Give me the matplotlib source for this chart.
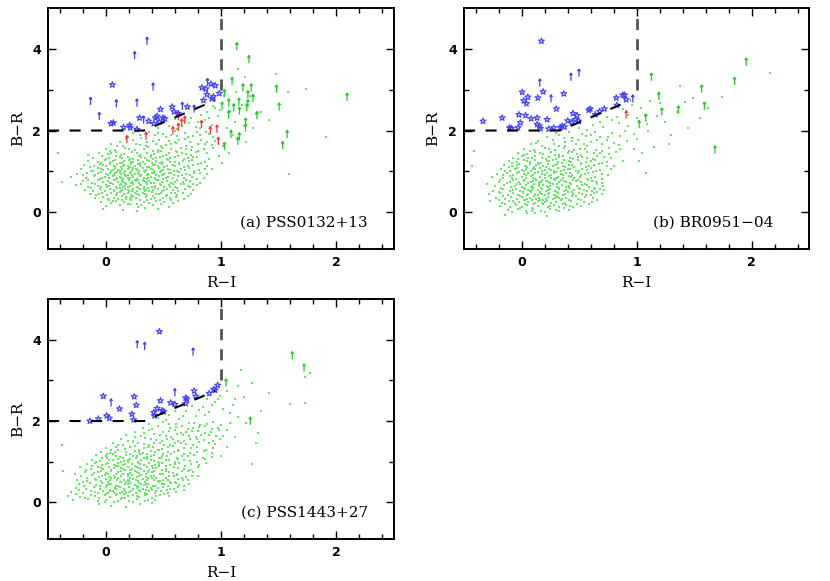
import matplotlib
matplotlib.use("Agg")
import matplotlib.pyplot as plt
from matplotlib.path import Path
from matplotlib.ticker import MultipleLocator, FixedLocator

plt.rcParams['lines.scale_dashes'] = False

# ---------------- data: panel (a) PSS0132+13 ----------------
a_star_x = [0.058, 0.047, 0.067, 0.155, 0.207, 0.213, 0.271, 0.294, 0.373, 0.417, 0.431, 0.446,
            0.475, 0.496, 0.513, 0.466, 0.577, 0.592, 0.630, 0.708, 0.834, 0.869, 0.913, 0.950,
            0.878, 0.848, 0.921, 0.933, 0.985]
a_star_y = [3.12, 2.17, 2.19, 2.08, 2.13, 2.07, 2.03, 2.31, 2.23, 2.17, 2.31, 2.35,
            2.52, 2.31, 2.29, 2.21, 2.58, 2.46, 2.42, 2.58, 3.05, 3.02, 3.14, 3.10,
            2.88, 2.74, 2.78, 2.83, 2.91]
a_blue_arrow_x = [0.359, 0.251, 0.411, -0.131, -0.055, 0.093, 0.271, 0.329, 0.665, 0.767, 0.883]
a_blue_arrow_y = [4.19, 3.84, 3.07, 2.72, 2.35, 2.66, 2.68, 2.26, 2.60, 2.53, 3.18]
a_red_arrow_x = [0.184, 0.35, 0.583, 0.630, 0.659, 0.685, 0.630, 0.831, 0.907, 0.965, 0.977]
a_red_arrow_y = [1.78, 1.86, 2.00, 2.08, 2.19, 2.26, 2.35, 2.15, 2.00, 2.04, 1.74]
a_green_arrow_x = [1.137, 1.242, 1.03, 1.096, 1.19, 1.262, 1.233, 1.277, 1.155, 1.067, 1.11, 1.233,
                   1.224, 1.009, 1.16, 1.312, 1.067, 1.481, 1.504, 2.093, 1.213, 1.213, 1.574,
                   1.087, 1.16, 1.146, 1.534, 1.03]
a_green_arrow_y = [4.06, 3.74, 2.91, 3.21, 3.05, 3.05, 2.88, 2.79, 2.70, 2.68, 2.56, 2.66,
                   2.56, 2.60, 2.48, 2.37, 2.39, 3.02, 2.58, 2.82, 2.21, 2.07, 1.91,
                   1.91, 1.85, 1.74, 1.64, 1.62]
a_dots = [
(0.27,0.03),(0.45,0.08),(-0.02,0.09),(0.15,0.06),
(0.00,0.15),(0.12,0.18),(0.28,0.12),(0.41,0.17),(0.55,0.14),(0.21,0.19),(0.34,0.11),
(-0.04,0.25),(0.05,0.22),(0.09,0.28),(0.16,0.24),(0.22,0.29),(0.27,0.21),(0.33,0.26),(0.38,0.23),(0.44,0.28),(0.51,0.25),(0.58,0.22),(0.63,0.27),(0.19,0.21),
(-0.09,0.34),(-0.02,0.38),(0.03,0.31),(0.07,0.36),(0.11,0.33),(0.14,0.39),(0.18,0.32),(0.23,0.37),(0.26,0.34),(0.30,0.31),(0.35,0.38),(0.39,0.33),(0.43,0.36),(0.47,0.31),(0.52,0.39),(0.56,0.34),(0.61,0.37),(0.68,0.32),(0.21,0.35),
(-0.14,0.45),(-0.08,0.41),(-0.03,0.48),(0.01,0.43),(0.05,0.46),(0.09,0.42),(0.12,0.49),(0.16,0.44),(0.19,0.47),(0.22,0.41),(0.25,0.48),(0.29,0.43),(0.32,0.46),(0.36,0.42),(0.40,0.49),(0.44,0.44),(0.48,0.47),(0.53,0.41),(0.57,0.46),(0.62,0.43),(0.67,0.48),(0.74,0.45),(0.27,0.44),
(-0.18,0.55),(-0.11,0.52),(-0.05,0.58),(-0.01,0.53),(0.04,0.56),(0.07,0.51),(0.10,0.59),(0.14,0.54),(0.17,0.57),(0.20,0.52),(0.24,0.58),(0.27,0.53),(0.30,0.56),(0.34,0.51),(0.37,0.59),(0.41,0.54),(0.45,0.57),(0.49,0.52),(0.53,0.58),(0.58,0.55),(0.63,0.51),(0.69,0.57),(0.76,0.54),(0.13,0.51),(0.33,0.58),
(-0.26,0.66),(-0.15,0.63),(-0.09,0.68),(-0.04,0.61),(0.00,0.67),(0.03,0.64),(0.06,0.69),(0.09,0.62),(0.12,0.66),(0.15,0.61),(0.18,0.68),(0.21,0.64),(0.24,0.69),(0.27,0.62),(0.30,0.66),(0.33,0.63),(0.36,0.68),(0.40,0.61),(0.43,0.65),(0.47,0.69),(0.51,0.63),(0.55,0.67),(0.60,0.62),(0.65,0.68),(0.71,0.64),(0.79,0.66),(0.19,0.63),
(-0.38,0.74),(-0.20,0.77),(-0.12,0.72),(-0.07,0.78),(-0.02,0.73),(0.02,0.76),(0.05,0.71),(0.08,0.79),(0.11,0.74),(0.14,0.77),(0.17,0.72),(0.20,0.78),(0.23,0.73),(0.26,0.76),(0.29,0.71),(0.32,0.79),(0.35,0.74),(0.38,0.77),(0.42,0.72),(0.45,0.78),(0.49,0.73),(0.53,0.76),(0.57,0.71),(0.62,0.78),(0.67,0.74),(0.73,0.77),(0.82,0.72),(0.25,0.79),
(-0.30,0.86),(-0.17,0.83),(-0.10,0.88),(-0.05,0.81),(-0.01,0.87),(0.03,0.84),(0.06,0.89),(0.09,0.82),(0.12,0.86),(0.15,0.81),(0.18,0.88),(0.21,0.84),(0.24,0.87),(0.27,0.82),(0.30,0.89),(0.33,0.85),(0.36,0.81),(0.39,0.87),(0.43,0.83),(0.46,0.88),(0.50,0.82),(0.54,0.86),(0.58,0.84),(0.63,0.89),(0.68,0.83),(0.75,0.87),(0.85,0.85),(0.13,0.84),
(-0.25,0.94),(-0.16,0.97),(-0.09,0.92),(-0.04,0.98),(0.00,0.93),(0.04,0.96),(0.07,0.91),(0.10,0.99),(0.13,0.94),(0.16,0.97),(0.19,0.92),(0.22,0.98),(0.25,0.93),(0.28,0.96),(0.31,0.91),(0.34,0.99),(0.37,0.94),(0.40,0.97),(0.44,0.92),(0.47,0.98),(0.51,0.93),(0.55,0.96),(0.59,0.91),(0.64,0.98),(0.70,0.94),(0.77,0.97),(0.88,0.93),(0.21,0.95),
(-0.21,1.05),(-0.13,1.02),(-0.07,1.08),(-0.02,1.03),(0.02,1.06),(0.05,1.01),(0.08,1.09),(0.11,1.04),(0.14,1.07),(0.17,1.02),(0.20,1.08),(0.23,1.03),(0.26,1.06),(0.29,1.01),(0.32,1.09),(0.35,1.04),(0.39,1.07),(0.42,1.02),(0.46,1.08),(0.50,1.04),(0.54,1.07),(0.59,1.02),(0.65,1.06),(0.72,1.09),(0.81,1.03),(0.92,1.07),
(-0.19,1.16),(-0.10,1.13),(-0.05,1.18),(0.00,1.12),(0.04,1.17),(0.07,1.14),(0.10,1.19),(0.13,1.11),(0.16,1.16),(0.19,1.13),(0.22,1.18),(0.25,1.12),(0.28,1.17),(0.31,1.14),(0.34,1.19),(0.38,1.11),(0.41,1.16),(0.45,1.13),(0.49,1.18),(0.53,1.12),(0.58,1.16),(0.64,1.19),(0.71,1.13),(0.80,1.17),
(-0.15,1.25),(-0.07,1.22),(-0.01,1.28),(0.04,1.23),(0.08,1.27),(0.12,1.21),(0.16,1.26),(0.20,1.29),(0.24,1.22),(0.28,1.27),(0.32,1.24),(0.36,1.29),(0.40,1.21),(0.44,1.26),(0.49,1.23),(0.54,1.28),(0.60,1.22),(0.67,1.26),(0.75,1.29),(0.86,1.24),
(-0.11,1.34),(-0.03,1.37),(0.03,1.32),(0.09,1.38),(0.14,1.33),(0.19,1.36),(0.24,1.31),(0.29,1.38),(0.34,1.33),(0.39,1.36),(0.44,1.32),(0.50,1.38),(0.56,1.34),(0.63,1.37),(0.71,1.32),(0.79,1.36),
(-0.41,1.44),(-0.06,1.46),(0.02,1.42),(0.09,1.48),(0.16,1.43),(0.23,1.47),(0.30,1.41),(0.36,1.46),(0.42,1.43),(0.48,1.49),(0.55,1.44),(0.62,1.47),(0.70,1.42),(0.78,1.48),
(0.00,1.55),(0.08,1.52),(0.17,1.58),(0.25,1.53),(0.33,1.56),(0.41,1.51),(0.49,1.57),(0.57,1.54),(0.65,1.58),(0.74,1.52),(0.85,1.56),
(0.05,1.66),(0.15,1.63),(0.26,1.68),(0.35,1.62),(0.44,1.67),(0.52,1.64),(0.61,1.69),(0.70,1.63),(0.80,1.67),(0.92,1.65),
(0.12,1.73),(0.24,1.77),(0.36,1.72),(0.46,1.78),(0.55,1.74),(0.64,1.77),(0.73,1.72),(0.83,1.78),(0.95,1.75),
(0.19,1.85),(0.31,1.82),(0.43,1.88),(0.52,1.83),(0.62,1.87),(0.71,1.84),(0.82,1.88),(0.93,1.83),
(0.24,1.94),(0.38,1.97),(0.50,1.92),(0.60,1.98),(0.69,1.93),(0.79,1.96),(0.90,1.91),
(0.45,2.05),(0.55,2.12),(0.62,2.03),(0.72,2.18),(0.78,2.09),(0.86,2.25),(0.92,2.14),(0.97,2.35),(0.68,2.24),(0.88,2.45),(0.95,2.55),(0.74,2.31),(0.83,2.38),(0.60,2.28),
(1.02,1.62),(1.05,2.05),(1.08,2.48),(1.12,2.20),(1.15,3.50),(1.21,3.30),(1.18,2.62),(1.25,2.85),(1.30,2.40),(1.35,2.46),(1.10,1.90),(1.07,1.45),(1.22,1.72),(1.28,2.05),(1.48,3.38),(1.58,2.95),(1.74,3.02),(1.91,1.85),(1.59,0.94),(1.42,2.25),(1.03,2.85),(1.13,2.95),(1.20,2.10),(1.01,1.20),(0.98,1.38),
]
a_dots2 = [
(0.06,0.27),(0.31,0.18),(0.48,0.20),(0.14,0.30),(0.36,0.29),(0.02,0.33),(0.24,0.40),(0.50,0.35),(0.57,0.29),(0.41,0.40),
(-0.06,0.44),(0.10,0.47),(0.18,0.38),(0.34,0.45),(0.46,0.44),(0.60,0.48),(0.71,0.40),(0.23,0.51),(0.38,0.53),(0.07,0.55),
(-0.13,0.60),(0.01,0.62),(0.12,0.59),(0.19,0.55),(0.28,0.60),(0.35,0.55),(0.43,0.60),(0.51,0.55),(0.62,0.59),(0.73,0.61),(0.56,0.63),
(-0.21,0.70),(-0.07,0.65),(0.04,0.72),(0.13,0.69),(0.22,0.71),(0.31,0.67),(0.39,0.71),(0.48,0.66),(0.58,0.70),(0.68,0.69),(0.76,0.70),(0.17,0.65),
(-0.15,0.79),(-0.03,0.84),(0.07,0.80),(0.15,0.75),(0.19,0.83),(0.28,0.80),(0.37,0.84),(0.44,0.80),(0.52,0.84),(0.60,0.75),(0.70,0.80),(0.79,0.82),(0.33,0.76),(0.10,0.85),
(-0.20,0.91),(-0.07,0.95),(0.02,0.90),(0.08,0.95),(0.17,0.90),(0.23,0.91),(0.29,0.93),(0.36,0.90),(0.42,0.95),(0.49,0.90),(0.57,0.95),(0.66,0.90),(0.73,0.92),(0.82,0.95),(0.12,0.97),
(-0.11,1.00),(-0.04,1.05),(0.06,1.04),(0.12,1.00),(0.19,1.05),(0.27,1.03),(0.33,1.00),(0.40,1.05),(0.48,1.01),(0.56,1.04),(0.62,1.00),(0.69,1.04),(0.77,1.01),(0.86,1.05),(0.24,1.09),
(-0.14,1.10),(-0.02,1.15),(0.08,1.11),(0.15,1.14),(0.21,1.11),(0.30,1.15),(0.36,1.10),(0.43,1.15),(0.51,1.10),(0.60,1.14),(0.68,1.10),(0.76,1.15),(0.88,1.12),
(-0.04,1.20),(0.06,1.25),(0.14,1.20),(0.22,1.24),(0.30,1.20),(0.38,1.25),(0.47,1.20),(0.56,1.24),(0.64,1.21),(0.72,1.25),(0.83,1.20),
(0.00,1.30),(0.12,1.35),(0.21,1.30),(0.31,1.35),(0.41,1.30),(0.47,1.35),(0.53,1.30),(0.60,1.36),(0.68,1.31),(0.76,1.35),(0.90,1.31),
(-0.15,1.40),(0.05,1.46),(0.13,1.41),(0.27,1.44),(0.39,1.40),(0.45,1.47),(0.52,1.40),(0.66,1.45),(0.74,1.40),(0.88,1.44),
(0.04,1.51),(0.20,1.55),(0.37,1.59),(0.45,1.53),(0.61,1.50),(0.70,1.55),(0.80,1.51),(0.93,1.58),
(0.10,1.61),(0.30,1.65),(0.48,1.61),(0.57,1.66),(0.75,1.60),(0.86,1.66),
(0.18,1.79),(0.41,1.75),(0.60,1.71),(0.69,1.79),(0.88,1.72),(0.30,1.89),(0.57,1.90),(0.76,1.86),(0.87,1.97),(0.45,1.95),
(0.66,2.10),(0.82,2.05),(0.90,2.30),(0.80,2.20),(0.93,2.60),(0.99,2.50),
]

# ---------------- data: panel (b) BR0951-04 ----------------
b_star_x = [0.173, -0.335, -0.168, -0.104, -0.087, -0.03, -0.023, -0.01, 0.006, 0.02, 0.043, 0.055,
            0.035, 0.084, 0.136, 0.142, 0.136, 0.156, 0.188, 0.165, 0.223, 0.237, 0.28, 0.303,
            0.338, 0.353, 0.373, 0.367, 0.402, 0.44, 0.448, 0.468, 0.483, 0.497, 0.584, 0.598,
            0.642, 0.68, 0.72, 0.824, 0.83, 0.88, 0.896, 0.91]
b_star_y = [4.19, 2.23, 2.31, 2.07, 2.05, 2.07, 2.39, 2.19, 2.94, 2.73, 2.66, 2.82,
            2.37, 2.29, 2.31, 2.80, 2.15, 2.11, 2.95, 2.05, 2.27, 2.04, 2.07, 2.53,
            2.07, 2.11, 2.09, 2.90, 2.24, 2.20, 2.42, 2.27, 2.37, 2.23, 2.50, 2.53,
            2.39, 2.47, 2.53, 2.80, 2.62, 2.87, 2.87, 2.76]
b_blue_arrow_x = [0.159, 0.43, 0.50, 0.257, 0.968]
b_blue_arrow_y = [3.17, 3.31, 3.41, 2.78, 2.78]
b_red_arrow_x = [0.91]
b_red_arrow_y = [2.39]
b_green_arrow_x = [1.954, 1.853, 1.13, 1.566, 1.194, 1.59, 1.22, 1.364, 1.08, 1.023, 1.682]
b_green_arrow_y = [3.68, 3.21, 3.31, 3.02, 2.84, 2.60, 2.46, 2.51, 2.31, 2.15, 1.53]
b_dots = [
(-0.14,-0.06),(0.05,-0.03),(0.22,-0.08),(0.12,-0.01),
(-0.12,0.05),(-0.03,0.08),(0.04,0.02),(0.10,0.07),(0.17,0.04),(0.25,0.09),(0.33,0.03),(0.41,0.06),
(-0.19,0.15),(-0.10,0.12),(-0.05,0.18),(0.00,0.13),(0.05,0.17),(0.09,0.11),(0.14,0.16),(0.19,0.19),(0.23,0.12),(0.28,0.17),(0.33,0.14),(0.39,0.18),(0.45,0.12),(0.52,0.16),
(-0.27,0.27),(-0.17,0.23),(-0.11,0.28),(-0.06,0.22),(-0.02,0.26),(0.02,0.29),(0.06,0.24),(0.10,0.21),(0.14,0.27),(0.18,0.23),(0.22,0.28),(0.26,0.22),(0.30,0.26),(0.34,0.29),(0.38,0.23),(0.43,0.27),(0.48,0.21),(0.54,0.26),(0.61,0.24),
(-0.22,0.35),(-0.14,0.32),(-0.09,0.38),(-0.04,0.33),(0.00,0.37),(0.03,0.31),(0.07,0.36),(0.11,0.39),(0.15,0.34),(0.19,0.31),(0.23,0.37),(0.27,0.33),(0.31,0.38),(0.35,0.32),(0.39,0.36),(0.44,0.39),(0.49,0.33),(0.55,0.37),(0.62,0.34),(0.13,0.32),(0.29,0.35),
(-0.28,0.44),(-0.19,0.47),(-0.12,0.42),(-0.07,0.48),(-0.03,0.43),(0.01,0.46),(0.05,0.41),(0.08,0.49),(0.12,0.44),(0.16,0.47),(0.20,0.42),(0.24,0.48),(0.28,0.43),(0.32,0.46),(0.36,0.41),(0.40,0.49),(0.45,0.44),(0.50,0.47),(0.56,0.42),(0.63,0.46),(0.70,0.44),(0.18,0.45),
(-0.25,0.53),(-0.16,0.56),(-0.10,0.51),(-0.05,0.58),(-0.01,0.53),(0.03,0.56),(0.07,0.52),(0.10,0.59),(0.14,0.54),(0.18,0.57),(0.21,0.51),(0.25,0.58),(0.29,0.53),(0.33,0.56),(0.37,0.52),(0.41,0.59),(0.46,0.54),(0.51,0.57),(0.57,0.52),(0.64,0.58),(0.72,0.55),(0.06,0.55),
(-0.23,0.64),(-0.15,0.67),(-0.09,0.62),(-0.04,0.68),(0.00,0.63),(0.04,0.66),(0.08,0.61),(0.11,0.69),(0.15,0.64),(0.19,0.67),(0.23,0.62),(0.27,0.68),(0.31,0.63),(0.35,0.66),(0.39,0.61),(0.43,0.69),(0.48,0.64),(0.53,0.67),(0.59,0.62),(0.66,0.68),(0.22,0.65),
(-0.20,0.75),(-0.13,0.72),(-0.07,0.78),(-0.02,0.73),(0.02,0.77),(0.06,0.71),(0.10,0.76),(0.13,0.79),(0.17,0.73),(0.21,0.77),(0.25,0.72),(0.29,0.78),(0.33,0.74),(0.37,0.77),(0.42,0.71),(0.47,0.76),(0.52,0.73),(0.58,0.78),(0.65,0.74),(0.15,0.75),
(-0.26,0.86),(-0.16,0.83),(-0.10,0.88),(-0.05,0.82),(0.00,0.87),(0.04,0.84),(0.08,0.89),(0.12,0.81),(0.16,0.86),(0.20,0.83),(0.24,0.88),(0.28,0.82),(0.32,0.87),(0.36,0.84),(0.41,0.89),(0.46,0.83),(0.51,0.86),(0.57,0.81),(0.64,0.87),(0.30,0.85),
(-0.21,0.94),(-0.13,0.97),(-0.07,0.92),(-0.02,0.98),(0.02,0.93),(0.06,0.96),(0.10,0.91),(0.14,0.99),(0.18,0.94),(0.22,0.97),(0.26,0.92),(0.30,0.98),(0.34,0.93),(0.39,0.96),(0.44,0.91),(0.49,0.97),(0.55,0.94),(0.62,0.98),(0.70,0.93),
(-0.18,1.05),(-0.10,1.02),(-0.04,1.08),(0.00,1.03),(0.04,1.07),(0.08,1.01),(0.12,1.06),(0.16,1.09),(0.20,1.03),(0.24,1.07),(0.28,1.02),(0.32,1.08),(0.37,1.04),(0.42,1.07),(0.47,1.01),(0.53,1.06),(0.60,1.09),(0.68,1.04),(0.78,1.06),
(-0.43,1.14),(-0.15,1.16),(-0.08,1.12),(-0.02,1.18),(0.03,1.13),(0.07,1.17),(0.11,1.11),(0.15,1.19),(0.19,1.14),(0.23,1.17),(0.27,1.12),(0.31,1.18),(0.36,1.13),(0.41,1.16),(0.46,1.11),(0.52,1.17),(0.59,1.14),(0.67,1.19),(0.80,1.13),
(-0.11,1.25),(-0.04,1.22),(0.02,1.28),(0.07,1.23),(0.12,1.27),(0.17,1.21),(0.22,1.26),(0.27,1.29),(0.32,1.23),(0.37,1.27),(0.43,1.22),(0.49,1.28),(0.56,1.24),(0.64,1.27),(0.74,1.22),(0.88,1.26),
(-0.07,1.34),(0.00,1.37),(0.06,1.32),(0.12,1.38),(0.18,1.33),(0.24,1.36),(0.30,1.31),(0.36,1.38),(0.42,1.33),(0.49,1.36),(0.57,1.32),(0.66,1.37),(0.78,1.34),
(-0.41,1.49),(-0.03,1.45),(0.05,1.42),(0.12,1.48),(0.19,1.43),(0.26,1.47),(0.33,1.41),(0.40,1.46),(0.48,1.43),(0.57,1.48),(0.68,1.44),(0.82,1.47),
(0.02,1.55),(0.11,1.52),(0.20,1.58),(0.29,1.53),(0.37,1.57),(0.46,1.52),(0.55,1.56),(0.65,1.53),(0.76,1.58),
(0.08,1.66),(0.18,1.62),(0.28,1.68),(0.38,1.63),(0.47,1.67),(0.57,1.62),(0.70,1.66),(0.85,1.64),
(0.14,1.74),(0.27,1.77),(0.38,1.72),(0.49,1.78),(0.60,1.73),(0.74,1.76),(0.92,1.75),
(0.22,1.84),(0.33,1.88),(0.44,1.82),(0.56,1.87),(0.68,1.83),(0.86,1.86),
(0.30,1.93),(0.41,1.97),(0.53,1.92),(0.64,1.96),(0.79,1.94),(0.98,1.91),
(0.50,2.07),(0.62,2.14),(0.71,2.09),(0.79,2.27),(0.85,2.18),(0.93,2.38),(0.88,2.52),(0.74,2.33),(0.96,2.62),(1.04,2.55),(1.12,2.72),(1.20,2.68),
(1.00,1.80),(1.05,1.45),(1.10,2.00),(1.15,1.60),(1.25,2.20),(1.28,1.68),(1.35,2.45),(1.42,2.70),(1.49,2.80),(1.55,2.30),(1.74,2.82),(2.16,3.41),(1.30,1.88),(1.18,2.35),(1.45,2.05),(1.02,1.25),(1.08,0.95),(0.98,1.55),(1.62,2.55),(1.38,3.10),
]
b_dots2 = [
(-0.08,0.00),(0.09,0.03),(0.20,0.01),(0.30,0.06),(0.37,0.10),(-0.01,0.10),
(-0.14,0.20),(0.03,0.19),(0.12,0.22),(0.25,0.15),(0.36,0.20),(0.42,0.16),(0.59,0.20),(0.20,0.25),
(-0.20,0.30),(-0.07,0.28),(0.05,0.33),(0.16,0.29),(0.21,0.33),(0.33,0.35),(0.41,0.30),(0.52,0.31),(0.66,0.29),(0.09,0.30),
(-0.16,0.40),(-0.01,0.39),(0.06,0.44),(0.14,0.41),(0.23,0.45),(0.30,0.40),(0.38,0.45),(0.47,0.40),(0.53,0.45),(0.60,0.41),(0.66,0.49),
(-0.20,0.50),(-0.07,0.55),(0.01,0.50),(0.09,0.54),(0.16,0.50),(0.23,0.55),(0.31,0.50),(0.39,0.55),(0.44,0.50),(0.54,0.55),(0.61,0.51),(0.68,0.56),
(-0.18,0.60),(-0.06,0.65),(0.02,0.60),(0.09,0.65),(0.17,0.60),(0.25,0.65),(0.33,0.60),(0.41,0.64),(0.50,0.60),(0.57,0.66),(0.63,0.60),(0.71,0.65),
(-0.30,0.70),(-0.10,0.74),(-0.01,0.70),(0.08,0.74),(0.15,0.70),(0.23,0.74),(0.31,0.70),(0.39,0.74),(0.45,0.78),(0.55,0.70),(0.61,0.76),(0.70,0.72),
(-0.19,0.80),(-0.08,0.84),(0.02,0.80),(0.10,0.85),(0.18,0.80),(0.26,0.85),(0.34,0.80),(0.43,0.86),(0.49,0.80),(0.60,0.84),(0.70,0.82),
(-0.16,0.90),(-0.04,0.95),(0.04,0.90),(0.12,0.95),(0.20,0.90),(0.28,0.95),(0.36,0.90),(0.42,0.95),(0.52,0.90),(0.58,0.96),(0.75,0.92),
(-0.14,1.00),(-0.06,1.05),(0.02,1.00),(0.10,1.05),(0.18,1.00),(0.26,1.04),(0.34,1.00),(0.40,1.05),(0.50,1.00),(0.57,1.04),(0.65,1.01),
(-0.11,1.10),(-0.04,1.15),(0.05,1.10),(0.13,1.15),(0.21,1.10),(0.29,1.15),(0.38,1.10),(0.44,1.15),(0.56,1.11),(0.63,1.16),(0.74,1.12),
(-0.08,1.20),(0.05,1.25),(0.14,1.20),(0.24,1.25),(0.35,1.20),(0.41,1.25),(0.52,1.20),(0.60,1.25),(0.70,1.21),
(-0.03,1.30),(0.09,1.34),(0.21,1.30),(0.33,1.35),(0.45,1.30),(0.53,1.36),(0.62,1.30),(0.72,1.35),
(0.02,1.40),(0.16,1.45),(0.29,1.40),(0.44,1.47),(0.52,1.40),(0.63,1.46),(0.76,1.42),
(0.07,1.50),(0.24,1.55),(0.41,1.50),(0.51,1.54),(0.70,1.51),(0.86,1.55),
(0.13,1.70),(0.33,1.63),(0.44,1.74),(0.54,1.68),(0.66,1.78),(0.80,1.70),(0.37,1.82),(0.60,1.90),(0.75,1.85),(0.90,1.98),
(0.57,2.02),(0.68,2.20),(0.83,2.32),(0.93,2.10),(1.00,2.30),(1.09,2.15),
]

# ---------------- data: panel (c) PSS1443+27 ----------------
c_star_x = [0.466, -0.137, -0.064, -0.02, 0.009, 0.032, 0.12, 0.227, 0.242, 0.248, 0.265, 0.417,
            0.423, 0.446, 0.475, 0.49, 0.504, 0.563, 0.60, 0.694, 0.703, 0.767, 0.781, 0.898,
            0.936, 0.948, 0.971, 0.694]
c_star_y = [4.20, 2.00, 2.05, 2.61, 2.13, 2.07, 2.30, 2.17, 2.03, 2.60, 2.39, 2.21,
            2.13, 2.31, 2.50, 2.26, 2.23, 2.45, 2.41, 2.57, 2.54, 2.74, 2.61, 2.68,
            2.78, 2.76, 2.88, 2.43]
c_blue_arrow_x = [0.274, 0.338, 0.758, 0.047, 0.60]
c_blue_arrow_y = [3.88, 3.84, 3.70, 2.45, 2.70]
c_green_arrow_x = [1.618, 1.72, 1.044, 1.254]
c_green_arrow_y = [3.61, 3.31, 2.94, 2.00]
c_dots = [
(0.05,-0.08),(0.18,-0.12),(0.30,-0.05),(-0.06,-0.03),(0.40,-0.02),
(-0.28,0.05),(-0.15,0.08),(-0.07,0.03),(0.00,0.07),(0.07,0.02),(0.13,0.09),(0.20,0.04),(0.27,0.08),(0.34,0.03),(0.43,0.06),
(-0.33,0.16),(-0.22,0.13),(-0.13,0.18),(-0.06,0.12),(-0.01,0.17),(0.04,0.14),(0.09,0.19),(0.14,0.11),(0.19,0.16),(0.24,0.19),(0.29,0.13),(0.34,0.17),(0.40,0.12),(0.47,0.18),(0.55,0.15),
(-0.30,0.26),(-0.20,0.23),(-0.13,0.28),(-0.07,0.22),(-0.02,0.27),(0.02,0.24),(0.06,0.29),(0.10,0.21),(0.14,0.26),(0.18,0.23),(0.22,0.28),(0.26,0.22),(0.30,0.27),(0.34,0.24),(0.38,0.29),(0.43,0.23),(0.48,0.27),(0.54,0.22),(0.61,0.26),(0.12,0.24),
(-0.26,0.35),(-0.17,0.32),(-0.10,0.38),(-0.05,0.33),(0.00,0.37),(0.04,0.31),(0.08,0.36),(0.12,0.39),(0.16,0.33),(0.20,0.37),(0.24,0.32),(0.28,0.38),(0.32,0.34),(0.36,0.37),(0.40,0.31),(0.45,0.36),(0.50,0.39),(0.56,0.33),(0.63,0.37),(0.27,0.35),(0.35,0.31),
(-0.23,0.44),(-0.14,0.47),(-0.08,0.42),(-0.03,0.48),(0.01,0.43),(0.05,0.46),(0.09,0.41),(0.13,0.49),(0.17,0.44),(0.21,0.47),(0.25,0.42),(0.29,0.48),(0.33,0.43),(0.37,0.46),(0.41,0.41),(0.46,0.49),(0.51,0.44),(0.57,0.47),(0.64,0.42),(0.72,0.46),(0.31,0.45),
(-0.25,0.56),(-0.16,0.53),(-0.09,0.58),(-0.04,0.52),(0.00,0.57),(0.04,0.54),(0.08,0.59),(0.12,0.51),(0.16,0.56),(0.20,0.53),(0.24,0.58),(0.28,0.52),(0.32,0.57),(0.36,0.54),(0.40,0.59),(0.45,0.53),(0.50,0.56),(0.56,0.51),(0.63,0.57),(0.71,0.54),(0.19,0.55),
(-0.21,0.64),(-0.12,0.67),(-0.06,0.62),(-0.01,0.68),(0.03,0.63),(0.07,0.66),(0.11,0.61),(0.15,0.69),(0.19,0.64),(0.23,0.67),(0.27,0.62),(0.31,0.68),(0.35,0.63),(0.39,0.66),(0.44,0.61),(0.49,0.69),(0.55,0.64),(0.62,0.67),(0.70,0.63),(0.80,0.66),
(-0.37,0.78),(-0.18,0.75),(-0.10,0.72),(-0.04,0.78),(0.00,0.73),(0.05,0.77),(0.09,0.71),(0.13,0.76),(0.17,0.79),(0.21,0.73),(0.25,0.77),(0.29,0.72),(0.33,0.78),(0.37,0.74),(0.42,0.77),(0.47,0.71),(0.52,0.76),(0.58,0.73),(0.66,0.78),(0.76,0.74),
(-0.22,0.86),(-0.13,0.83),(-0.07,0.88),(-0.02,0.82),(0.03,0.87),(0.07,0.84),(0.11,0.89),(0.15,0.81),(0.19,0.86),(0.23,0.83),(0.27,0.88),(0.31,0.82),(0.36,0.87),(0.41,0.84),(0.46,0.89),(0.52,0.83),(0.59,0.86),(0.68,0.82),(0.80,0.87),
(-0.16,0.94),(-0.09,0.97),(-0.03,0.92),(0.02,0.98),(0.07,0.93),(0.11,0.96),(0.15,0.91),(0.19,0.99),(0.23,0.94),(0.28,0.97),(0.33,0.92),(0.38,0.98),(0.43,0.93),(0.49,0.96),(0.56,0.91),(0.64,0.97),(0.74,0.94),(0.87,0.96),
(-0.12,1.05),(-0.05,1.02),(0.01,1.08),(0.06,1.03),(0.11,1.07),(0.16,1.01),(0.21,1.06),(0.26,1.09),(0.31,1.03),(0.36,1.07),(0.42,1.02),(0.48,1.08),(0.55,1.04),(0.63,1.07),(0.73,1.02),(0.86,1.06),
(-0.08,1.16),(0.00,1.13),(0.06,1.18),(0.12,1.12),(0.18,1.17),(0.24,1.14),(0.30,1.19),(0.36,1.12),(0.42,1.16),(0.49,1.13),(0.57,1.18),(0.66,1.14),(0.77,1.17),(0.92,1.12),
(-0.04,1.25),(0.04,1.22),(0.11,1.28),(0.18,1.23),(0.25,1.27),(0.32,1.21),(0.39,1.26),(0.46,1.29),(0.54,1.23),(0.63,1.27),(0.73,1.22),(0.85,1.26),
(0.00,1.34),(0.09,1.37),(0.17,1.32),(0.25,1.38),(0.33,1.33),(0.41,1.36),(0.49,1.31),(0.58,1.38),(0.68,1.33),(0.79,1.36),(0.93,1.34),
(-0.38,1.42),(0.06,1.45),(0.15,1.42),(0.24,1.48),(0.33,1.43),(0.42,1.47),(0.51,1.41),(0.60,1.46),(0.70,1.43),(0.81,1.48),(0.95,1.44),
(0.13,1.55),(0.24,1.52),(0.34,1.58),(0.44,1.53),(0.53,1.57),(0.63,1.52),(0.73,1.56),(0.85,1.53),(0.99,1.57),
(0.18,1.66),(0.31,1.62),(0.42,1.68),(0.52,1.63),(0.62,1.67),(0.72,1.62),(0.83,1.66),(0.96,1.64),
(0.25,1.74),(0.38,1.77),(0.50,1.72),(0.60,1.78),(0.70,1.73),(0.80,1.76),(0.91,1.72),(1.05,1.77),
(0.32,1.84),(0.45,1.88),(0.56,1.82),(0.66,1.87),(0.76,1.83),(0.86,1.88),(0.97,1.84),
(0.38,1.93),(0.50,1.97),(0.61,1.92),(0.72,1.96),(0.82,1.91),(0.93,1.97),(1.08,1.94),
(0.45,2.08),(0.55,2.16),(0.64,2.05),(0.70,2.25),(0.78,2.12),(0.84,2.35),(0.90,2.21),(0.95,2.48),(0.99,2.62),(0.75,2.38),(0.60,2.24),(0.88,2.55),(1.02,2.30),(0.52,2.03),
(1.05,2.75),(1.10,2.40),(1.15,2.10),(1.17,3.25),(1.20,2.60),(1.27,2.94),(1.32,1.70),(1.27,0.94),(1.42,2.70),(1.60,2.41),(1.73,2.45),(1.77,3.17),(1.73,3.09),(1.12,1.60),(1.05,1.35),(1.22,1.95),(1.30,1.45),(1.00,1.15),(1.15,2.85),(1.35,2.25),
]
c_dots2 = [
(-0.01,0.00),(0.11,0.03),(0.24,0.01),(0.37,0.07),(-0.18,0.10),(0.17,0.10),
(-0.26,0.20),(-0.09,0.15),(0.07,0.22),(0.16,0.20),(0.27,0.16),(0.36,0.20),(0.44,0.15),(0.51,0.20),(0.00,0.21),
(-0.23,0.30),(-0.09,0.26),(0.04,0.28),(0.09,0.33),(0.17,0.29),(0.20,0.25),(0.29,0.30),(0.39,0.35),(0.44,0.28),(0.53,0.30),(0.59,0.34),(0.68,0.30),
(-0.19,0.40),(-0.05,0.40),(0.03,0.45),(0.11,0.41),(0.19,0.45),(0.27,0.40),(0.35,0.45),(0.43,0.40),(0.49,0.45),(0.54,0.40),(0.61,0.47),(0.68,0.40),
(-0.20,0.50),(-0.08,0.54),(0.02,0.50),(0.10,0.55),(0.18,0.50),(0.26,0.55),(0.34,0.50),(0.42,0.55),(0.47,0.52),(0.54,0.56),(0.60,0.50),(0.67,0.55),
(-0.16,0.60),(-0.03,0.65),(0.05,0.60),(0.13,0.65),(0.21,0.60),(0.29,0.65),(0.37,0.60),(0.42,0.65),(0.52,0.60),(0.59,0.65),(0.66,0.60),(0.75,0.65),
(-0.27,0.70),(-0.07,0.75),(0.02,0.70),(0.11,0.74),(0.19,0.70),(0.27,0.74),(0.35,0.70),(0.40,0.74),(0.50,0.70),(0.55,0.75),(0.62,0.71),(0.71,0.76),
(-0.17,0.80),(-0.04,0.84),(0.05,0.80),(0.13,0.84),(0.21,0.80),(0.29,0.85),(0.38,0.80),(0.44,0.85),(0.49,0.80),(0.63,0.84),(0.73,0.80),
(-0.12,0.90),(0.00,0.95),(0.09,0.90),(0.17,0.95),(0.25,0.90),(0.30,0.95),(0.40,0.90),(0.46,0.95),(0.52,0.90),(0.60,0.95),(0.69,0.90),(0.81,0.93),
(-0.08,1.00),(0.03,1.05),(0.13,1.00),(0.19,1.04),(0.28,1.00),(0.39,1.05),(0.45,1.00),(0.52,1.05),(0.60,1.00),(0.68,1.05),(0.79,1.00),
(-0.03,1.10),(0.09,1.15),(0.15,1.10),(0.27,1.15),(0.33,1.10),(0.39,1.15),(0.46,1.10),(0.53,1.15),(0.62,1.10),(0.71,1.15),(0.84,1.10),
(0.01,1.20),(0.08,1.25),(0.21,1.20),(0.29,1.25),(0.36,1.20),(0.43,1.25),(0.50,1.20),(0.59,1.25),(0.68,1.20),(0.79,1.25),(0.92,1.21),
(0.05,1.30),(0.21,1.35),(0.29,1.30),(0.37,1.35),(0.45,1.30),(0.54,1.35),(0.63,1.30),(0.74,1.34),(0.87,1.30),
(0.11,1.40),(0.28,1.45),(0.38,1.40),(0.47,1.45),(0.56,1.40),(0.65,1.45),(0.76,1.40),(0.90,1.46),
(0.19,1.50),(0.39,1.55),(0.49,1.50),(0.58,1.55),(0.68,1.50),(0.79,1.55),(0.93,1.51),
(0.25,1.60),(0.47,1.65),(0.57,1.60),(0.67,1.65),(0.78,1.60),(0.90,1.65),(1.02,1.62),
(0.33,1.70),(0.55,1.75),(0.65,1.70),(0.75,1.75),(0.86,1.70),(0.98,1.78),
(0.40,1.80),(0.61,1.85),(0.71,1.80),(0.81,1.85),(0.92,1.80),(0.55,1.92),(0.77,1.95),(0.88,1.93),(1.00,1.90),
(0.67,2.12),(0.81,2.28),(0.92,2.40),(0.86,2.15),(0.97,2.55),(1.08,2.20),(1.12,2.55),
]

panel_labels = ["(a) PSS0132+13", "(b) BR0951\u221204", "(c) PSS1443+27"]
x_label = "R\u2212I"
y_label = "B\u2212R"
# colour-selection criterion
sel_x = [-0.5, 1 / 3, 0.95]
sel_y = [2.0, 2.0, 2.74]
vert_x = [1.0, 1.0]
vert_y = [3.0, 5.0]

# ---------------- drawing ----------------
arrow_path = Path([(0, -1), (0, 1), (-0.38, 0.45), (0, 1), (0.38, 0.45)],
                  [Path.MOVETO, Path.LINETO, Path.MOVETO, Path.LINETO, Path.LINETO])

BLUE = '#4040ff'
RED = '#ff3030'
GREEN_ARR = '#22cc22'
GREEN_DOT = '#62ea62'

fig = plt.figure(figsize=(8.3, 5.81), dpi=100)
W, H = 830.0, 581.0
axA = fig.add_axes([48 / W, 1 - 249 / H, 346 / W, 241 / H])
axB = fig.add_axes([464 / W, 1 - 249 / H, 345 / W, 241 / H])
axC = fig.add_axes([48 / W, 1 - 539 / H, 346 / W, 240 / H])

panels = [
    (axA, a_dots + a_dots2, a_star_x, a_star_y, a_blue_arrow_x, a_blue_arrow_y, a_red_arrow_x, a_red_arrow_y,
     a_green_arrow_x, a_green_arrow_y, panel_labels[0], 0.925),
    (axB, b_dots + b_dots2, b_star_x, b_star_y, b_blue_arrow_x, b_blue_arrow_y, b_red_arrow_x, b_red_arrow_y,
     b_green_arrow_x, b_green_arrow_y, panel_labels[1], 0.896),
    (axC, c_dots + c_dots2, c_star_x, c_star_y, c_blue_arrow_x, c_blue_arrow_y, [], [],
     c_green_arrow_x, c_green_arrow_y, panel_labels[2], 0.925),
]

for (ax, dots, sx, sy, bax, bay, rax, ray, gax, gay, lab, lx) in panels:
    dx = [p[0] for p in dots]
    dy = [p[1] for p in dots]
    ax.scatter(dx, dy, s=1.3, marker='s', color=GREEN_DOT, linewidths=0, zorder=2)
    ax.scatter(gax, gay, s=30, marker=arrow_path, facecolors='none', edgecolors=GREEN_ARR,
               linewidths=0.9, zorder=3)
    if rax:
        ax.scatter(rax, ray, s=30, marker=arrow_path, facecolors='none', edgecolors=RED,
                   linewidths=0.9, zorder=3)
    ax.scatter(bax, bay, s=30, marker=arrow_path, facecolors='none', edgecolors=BLUE,
               linewidths=0.9, zorder=3)
    ax.scatter(sx, sy, s=20, marker='*', facecolors='none', edgecolors=BLUE,
               linewidths=0.8, zorder=4)
    ax.plot(sel_x, sel_y, color='black', lw=1.5, dashes=(8, 7.5), zorder=5)
    ax.plot(vert_x, vert_y, color='#555555', lw=2.0, dashes=(8, 6.5), zorder=5)

    ax.set_xlim(-0.5, 2.5)
    ax.set_ylim(-0.9, 5.0)
    ax.xaxis.set_major_locator(FixedLocator([0, 1, 2]))
    ax.xaxis.set_minor_locator(MultipleLocator(0.2))
    ax.yaxis.set_major_locator(FixedLocator([0, 2, 4]))
    ax.yaxis.set_minor_locator(FixedLocator([1, 3]))
    ax.tick_params(which='both', direction='in', top=True, right=True, width=1.0, color='black')
    ax.tick_params(which='major', length=6)
    ax.tick_params(which='minor', length=3.5)
    ax.tick_params(axis='both', which='major', labelsize=9, pad=5)
    for t in ax.get_xticklabels() + ax.get_yticklabels():
        t.set_fontweight('bold')
        t.set_family('DejaVu Sans')
    for sp in ax.spines.values():
        sp.set_linewidth(1.4)
    ax.text(lx, 0.11, lab, transform=ax.transAxes, ha='right', va='center',
            family='DejaVu Serif', fontsize=11)

# axis titles
fig.text(221 / W, 1 - 283 / H, x_label, ha='center', va='center', family='DejaVu Serif', fontsize=11)
fig.text(636 / W, 1 - 283 / H, x_label, ha='center', va='center', family='DejaVu Serif', fontsize=11)
fig.text(221 / W, 1 - 573 / H, x_label, ha='center', va='center', family='DejaVu Serif', fontsize=11)
fig.text(18 / W, 1 - 128 / H, y_label, ha='center', va='center', rotation=90, family='DejaVu Serif', fontsize=11)
fig.text(433 / W, 1 - 128 / H, y_label, ha='center', va='center', rotation=90, family='DejaVu Serif', fontsize=11)
fig.text(18 / W, 1 - 419 / H, y_label, ha='center', va='center', rotation=90, family='DejaVu Serif', fontsize=11)

fig.savefig("out.png", dpi=100)
